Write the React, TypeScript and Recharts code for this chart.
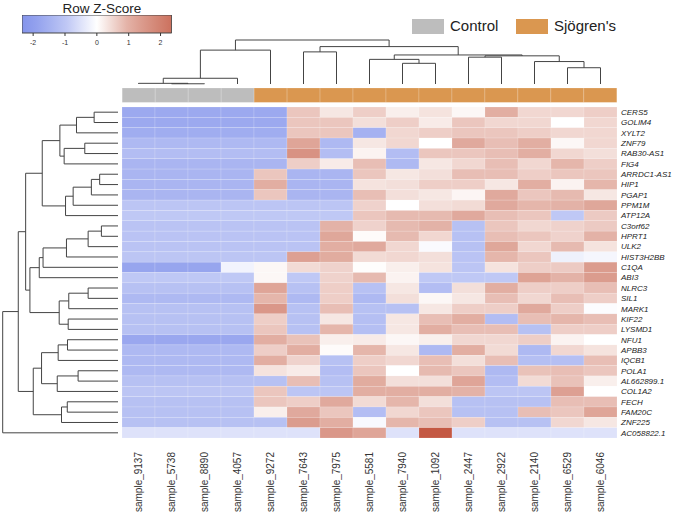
import React from "react";
import { ScatterChart, Scatter, XAxis, YAxis, ReferenceArea } from "recharts";

const FONT = '"Liberation Sans", Arial, Helvetica, sans-serif';

const samples = [
  "sample_9137", "sample_5738", "sample_8890", "sample_4057", "sample_9272",
  "sample_7643", "sample_7975", "sample_5581", "sample_7940", "sample_1092",
  "sample_2447", "sample_2922", "sample_2140", "sample_6529", "sample_6046",
];

const sampleGroups = [
  "Control", "Control", "Control", "Control", "Sjögren's",
  "Sjögren's", "Sjögren's", "Sjögren's", "Sjögren's", "Sjögren's",
  "Sjögren's", "Sjögren's", "Sjögren's", "Sjögren's", "Sjögren's",
];

const genes = [
  "CERS5", "GOLIM4", "XYLT2", "ZNF79", "RAB30-AS1", "FIG4", "ARRDC1-AS1", "HIP1",
  "PGAP1", "PPM1M", "ATP12A", "C3orf62", "HPRT1", "ULK2", "HIST3H2BB", "C1QA",
  "ABI3", "NLRC3", "SIL1", "MARK1", "KIF22", "LYSMD1", "NFU1", "APBB3",
  "IQCB1", "POLA1", "AL662899.1", "COL1A2", "FECH", "FAM20C", "ZNF225", "AC058822.1",
];

// row z-scores, one row per gene, one column per sample
const zScores: number[][] = [
  [-1.7, -1.7, -1.7, -1.7, -1.7, 0.7, 0.3, 0.6, 0.2, 0.35, 0.1, 1.0, 0.5, 0.5, 0.6],
  [-1.7, -1.7, -1.7, -1.7, -1.7, 0.7, 0.7, 0.4, 0.6, 0.25, 0.7, 0.5, 0.5, 0.0, 0.5],
  [-1.6, -1.6, -1.6, -1.6, -1.6, 0.7, 0.7, -1.5, 0.5, 0.6, 0.7, 0.7, 0.6, 0.5, 0.5],
  [-1.3, -1.3, -1.3, -1.3, -1.3, 1.2, -1.3, 0.3, 0.5, 0.0, 1.1, 0.8, 1.0, 0.1, 0.5],
  [-1.2, -1.2, -1.2, -1.2, -1.2, 1.6, -1.2, 0.15, -1.2, 0.7, 0.7, 0.8, 1.0, 0.5, 0.4],
  [-1.4, -1.4, -1.4, -1.4, -1.4, 0.6, 0.25, 0.8, -1.3, 0.3, 0.5, 0.8, 0.5, 0.9, 0.6],
  [-1.4, -1.4, -1.4, -1.4, 0.7, -1.4, -1.4, 0.7, 0.3, 0.4, 0.8, 0.8, 0.6, 0.7, 0.7],
  [-1.4, -1.4, -1.4, -1.4, 1.0, -1.4, -1.4, 0.35, 0.4, 0.6, 0.6, 0.3, 1.0, 0.15, 0.9],
  [-1.4, -1.4, -1.4, -1.4, 0.7, -1.4, -1.4, 0.8, 0.4, 0.3, 0.12, 1.1, 0.7, 0.85, 0.3],
  [-1.0, -1.0, -1.0, -1.0, -1.0, -1.0, -1.0, 0.55, 0.0, 0.4, 0.45, 1.1, 0.9, 0.95, 1.15],
  [-0.95, -0.95, -0.95, -0.95, -0.95, -0.95, -0.95, 0.7, 0.85, 0.85, 1.1, 0.8, 0.7, -0.95, 0.65],
  [-1.05, -1.05, -1.05, -1.05, -1.05, -1.05, 0.95, 0.55, 0.85, 0.95, -1.1, 0.7, 0.5, 0.55, 0.65],
  [-1.05, -1.05, -1.05, -1.05, -1.05, -1.05, 1.15, 0.05, 0.85, 0.5, -1.1, 0.8, 0.7, 0.55, 0.95],
  [-1.05, -1.05, -1.05, -1.05, -1.05, -1.05, 1.0, 1.1, 0.5, -0.08, -1.1, 1.15, 0.5, 0.85, 0.35],
  [-1.0, -1.0, -1.0, -1.0, -1.0, 1.3, 1.05, 0.45, 0.5, 0.4, -1.05, 0.9, 0.7, -0.25, -0.15],
  [-1.8, -1.8, -1.8, -0.2, 0.1, 0.45, 0.55, 0.03, 0.2, 0.35, -1.0, 0.35, 0.6, 0.65, 1.4],
  [-0.95, -0.95, -0.95, -0.95, 0.1, -0.95, 0.55, 0.85, 0.15, -0.95, -0.95, -0.95, 1.25, 0.95, 1.4],
  [-1.1, -1.1, -1.1, -1.1, 1.2, -1.1, 0.6, -1.1, 0.3, -1.2, 0.4, 1.0, 0.6, 0.6, 0.8],
  [-1.3, -1.3, -1.3, -1.3, 0.9, -1.3, 0.6, -1.3, 0.4, 0.1, 0.3, 0.8, 0.5, 0.8, 0.6],
  [-1.1, -1.1, -1.1, -1.1, 1.5, -1.1, 0.8, -1.1, -1.1, 0.3, 0.6, 0.6, 1.1, 0.6, -0.05],
  [-1.1, -1.1, -1.1, -1.1, 0.6, -1.1, 0.3, -1.15, 0.3, 0.8, 1.0, -1.2, 0.8, 0.9, 0.8],
  [-1.1, -1.1, -1.1, -1.1, 0.7, -1.1, 0.9, -1.15, 0.3, 1.0, 0.8, 0.8, -1.1, 0.6, 0.6],
  [-1.75, -1.75, -1.75, -1.75, 1.0, 0.75, 0.2, 0.25, 0.1, 0.2, 0.5, 0.5, 0.6, 0.15, 0.0],
  [-1.3, -1.3, -1.3, -1.3, 0.6, 1.0, 0.05, 0.9, 0.3, -1.3, 1.0, 0.45, -1.3, 0.5, 0.35],
  [-1.3, -1.3, -1.3, -1.3, 1.0, 0.55, -1.1, 0.6, 0.5, 0.8, 0.4, 0.8, -1.15, -1.15, 0.8],
  [-1.3, -1.3, -1.3, -1.3, 0.35, 0.25, -1.2, 0.7, 0.0, 0.85, 0.7, -1.3, 0.75, 0.8, 0.7],
  [-1.1, -1.1, -1.1, -1.1, -1.1, 0.8, -1.1, 1.05, 0.4, 0.4, 1.2, -1.2, 0.45, 0.75, 0.2],
  [-1.0, -1.0, -1.0, -1.0, 0.7, -1.0, -1.0, 1.0, 1.0, 1.0, 0.95, -1.0, -1.0, 1.3, 0.0],
  [-1.1, -1.1, -1.1, -1.1, 0.7, 0.6, 1.1, 0.45, 0.9, 0.4, -1.1, -1.1, -1.1, 0.8, 0.8],
  [-1.1, -1.1, -1.1, -1.1, 0.2, 1.1, 0.7, -1.2, 0.5, 0.7, -1.1, -1.1, 0.8, 0.7, 1.2],
  [-1.1, -1.1, -1.1, -1.1, -1.1, 1.4, 1.0, -0.1, 0.9, 0.8, 0.6, -1.1, -1.1, 0.5, 0.3],
  [-0.5, -0.5, -0.5, -0.5, -0.5, -0.5, 1.5, 1.2, -0.5, 2.9, -0.5, -0.5, -0.5, -0.5, -0.5],
];

// hierarchical merges: [left id, right id, height]; leaves are 0..n-1, merges n, n+1, ...
const colMerges: [number, number, number][] = [
  [1, 2, 0.05], [0, 15, 0.15], [16, 3, 1.3], [17, 4, 7.7], [5, 6, 7.3],
  [8, 9, 4.7], [7, 20, 5.6], [10, 11, 6.1], [13, 14, 3.7], [12, 23, 5.1],
  [22, 24, 6.4], [21, 25, 6.6], [19, 26, 8.5], [18, 27, 10],
];

const rowMerges: [number, number, number][] = [
  [0, 1, 2.07], [32, 2, 3.6], [3, 4, 2.88], [34, 5, 4.67], [33, 35, 5.04],
  [6, 7, 1.59], [37, 8, 2.31], [38, 9, 3.89], [39, 10, 4.55], [36, 40, 6.57],
  [11, 12, 1.44], [42, 13, 2.59], [43, 14, 4.47], [44, 15, 6.5], [45, 16, 6.83],
  [17, 18, 2.59], [47, 19, 4.27], [20, 21, 4.32], [48, 49, 5.1], [46, 50, 7.64],
  [41, 51, 8.01], [22, 23, 4.38], [53, 24, 5.19], [25, 26, 3.46], [55, 27, 5.27],
  [54, 56, 6.63], [28, 29, 4.4], [58, 30, 4.9], [57, 59, 7.35], [52, 60, 8.65],
  [61, 31, 10],
];

const zTicks = [-2, -1, 0, 1, 2];
const zRange = [-2.35, 2.35];

const groupColors: { [key: string]: string } = {
  Control: "#bdbdbd",
  "Sjögren's": "#da9750",
};

const BLUE_STOPS = [[255, 255, 255], [188, 197, 244], [142, 157, 237], [112, 130, 230]];
const RED_STOPS = [[255, 255, 255], [226, 174, 162], [209, 128, 111], [194, 84, 62]];

const zColor = (z: number): string => {
  const stops = z < 0 ? BLUE_STOPS : RED_STOPS;
  const a = Math.min(Math.abs(z), 3);
  const i = Math.min(Math.floor(a), 2);
  const t = a - i;
  const c = stops[i].map((v, k) => Math.round(v + (stops[i + 1][k] - v) * t));
  return `rgb(${c.join(",")})`;
};

// layout
const HM_LEFT = 122;
const HM_TOP = 107.3;
const HM_W = 495;
const HM_H = 331;
const CELL_W = HM_W / samples.length;
const CELL_H = HM_H / genes.length;
const LINE = "#444";

type Pt = { x: number; y: number };

const dendroSegments = (leafCount: number, merges: [number, number, number][], flip: boolean) => {
  const pos: number[] = [];
  const hgt: number[] = [];
  for (let i = 0; i < leafCount; i++) {
    pos[i] = i + 0.5;
    hgt[i] = 0;
  }
  return merges.map(([a, b, h], k) => {
    const id = leafCount + k;
    pos[id] = (pos[a] + pos[b]) / 2;
    hgt[id] = h;
    const raw = [
      [pos[a], hgt[a]],
      [pos[a], h],
      [pos[b], h],
      [pos[b], hgt[b]],
    ];
    return raw.map(([p, v]) => (flip ? { x: v, y: p } : { x: p, y: v })) as Pt[];
  });
};

const colSegments = dendroSegments(samples.length, colMerges, false);
const rowSegments = dendroSegments(genes.length, rowMerges, true);

const cells = zScores.flatMap((row, r) => row.map((v, c) => ({ x: c + 0.5, y: r + 0.5, value: v })));
const annoCells = sampleGroups.map((g, i) => ({ x: i + 0.5, y: 0.5, group: g }));
const colTicks = samples.map((_, i) => i + 0.5);
const rowTicks = genes.map((_, i) => i + 0.5);

const noShape = () => <g />;

const HeatCell = (props: any) => {
  const { cx, cy, payload } = props;
  return (
    <rect
      x={cx - CELL_W / 2}
      y={cy - CELL_H / 2}
      width={CELL_W}
      height={CELL_H}
      fill={zColor(payload.value)}
      stroke="rgba(255,255,255,0.3)"
      strokeWidth={0.5}
    />
  );
};

const ANNO_H = 14.4;
const AnnoCell = (props: any) => {
  const { cx, cy, payload } = props;
  return (
    <rect
      x={cx - CELL_W / 2}
      y={cy - ANNO_H / 2}
      width={CELL_W}
      height={ANNO_H}
      fill={groupColors[payload.group]}
      stroke="rgba(255,255,255,0.3)"
      strokeWidth={0.6}
    />
  );
};

const SampleTick = (props: any) => {
  const { x, y, payload } = props;
  const label = samples[Math.floor(payload.value)];
  return (
    <text
      x={x}
      y={y}
      dy="0.35em"
      textAnchor="end"
      transform={`rotate(-90, ${x}, ${y})`}
      fontSize={10}
      fontFamily={FONT}
      fill="#333"
    >
      {label}
    </text>
  );
};

const GeneTick = (props: any) => {
  const { x, y, payload } = props;
  const label = genes[Math.floor(payload.value)];
  return (
    <text x={x} y={y} dy="0.35em" textAnchor="start" fontSize={8} fontStyle="italic" fontFamily={FONT} fill="#222">
      {label}
    </text>
  );
};

const gradientStops = Array.from({ length: 11 }, (_, k) => {
  const z = zRange[0] + ((zRange[1] - zRange[0]) * k) / 10;
  return { offset: `${k * 10}%`, color: zColor(z) };
});

export default function App() {
  return (
    <div
      style={{
        position: "absolute",
        left: 0,
        top: 0,
        width: 673,
        height: 514,
        background: "#fff",
        fontFamily: FONT,
        overflow: "hidden",
      }}
    >
      {/* colour key */}
      <div
        style={{
          position: "absolute",
          left: 22,
          top: 0.5,
          width: 160,
          textAlign: "center",
          fontSize: 13.5,
          lineHeight: "16px",
          color: "#222",
        }}
      >
        Row Z-Score
      </div>
      <div style={{ position: "absolute", left: 22.3, top: 15.3 }}>
        <ScatterChart width={149.7} height={34} margin={{ top: 0, right: 0, bottom: 0, left: 0 }}>
          <defs>
            <linearGradient id="zScoreGradient" x1="0" y1="0" x2="1" y2="0">
              {gradientStops.map((s) => (
                <stop key={s.offset} offset={s.offset} stopColor={s.color} />
              ))}
            </linearGradient>
          </defs>
          <XAxis
            type="number"
            dataKey="x"
            domain={zRange}
            ticks={zTicks}
            interval={0}
            axisLine={false}
            tickSize={3}
            tickMargin={4}
            height={16}
            tickLine={{ stroke: "#333" }}
            tick={{ fontSize: 7, fill: "#333", fontFamily: FONT }}
          />
          <YAxis type="number" dataKey="y" domain={[0, 1]} hide />
          <Scatter data={zTicks.map((t) => ({ x: t, y: 0.5 }))} shape={noShape} isAnimationActive={false} />
          <ReferenceArea
            x1={zRange[0]}
            x2={zRange[1]}
            y1={0}
            y2={1}
            fill="url(#zScoreGradient)"
            fillOpacity={1}
            stroke="#444"
            strokeWidth={1}
          />
        </ScatterChart>
      </div>

      {/* group legend */}
      <div style={{ position: "absolute", left: 412, top: 19, width: 32, height: 14.5, background: groupColors.Control }} />
      <div style={{ position: "absolute", left: 450, top: 17, fontSize: 15, lineHeight: "18px", color: "#222" }}>
        Control
      </div>
      <div style={{ position: "absolute", left: 516, top: 19, width: 32, height: 14.5, background: groupColors["Sjögren's"] }} />
      <div style={{ position: "absolute", left: 554, top: 17, fontSize: 15, lineHeight: "18px", color: "#222" }}>
        Sjögren's
      </div>

      {/* column dendrogram */}
      <div style={{ position: "absolute", left: HM_LEFT - 2, top: 38 }}>
        <ScatterChart width={HM_W + 4} height={48} margin={{ top: 2, right: 2, bottom: 2, left: 2 }}>
          <XAxis type="number" dataKey="x" domain={[0, samples.length]} hide />
          <YAxis type="number" dataKey="y" domain={[0, 10]} hide />
          {colSegments.map((seg, i) => (
            <Scatter
              key={i}
              data={seg}
              line={{ stroke: LINE, strokeWidth: 1 }}
              shape={noShape}
              isAnimationActive={false}
            />
          ))}
        </ScatterChart>
      </div>

      {/* annotation bar */}
      <div style={{ position: "absolute", left: HM_LEFT, top: 88.3 }}>
        <ScatterChart width={HM_W} height={ANNO_H} margin={{ top: 0, right: 0, bottom: 0, left: 0 }}>
          <XAxis type="number" dataKey="x" domain={[0, samples.length]} hide />
          <YAxis type="number" dataKey="y" domain={[0, 1]} hide />
          <Scatter data={annoCells} shape={AnnoCell} isAnimationActive={false} />
        </ScatterChart>
      </div>

      {/* row dendrogram */}
      <div style={{ position: "absolute", left: 0, top: HM_TOP - 2 }}>
        <ScatterChart width={120} height={HM_H + 4} margin={{ top: 2, right: 2, bottom: 2, left: 2.7 }}>
          <XAxis type="number" dataKey="x" domain={[0, 10]} reversed hide />
          <YAxis type="number" dataKey="y" domain={[0, genes.length]} reversed hide />
          {rowSegments.map((seg, i) => (
            <Scatter
              key={i}
              data={seg}
              line={{ stroke: LINE, strokeWidth: 1 }}
              shape={noShape}
              isAnimationActive={false}
            />
          ))}
        </ScatterChart>
      </div>

      {/* heatmap */}
      <div style={{ position: "absolute", left: HM_LEFT, top: HM_TOP }}>
        <ScatterChart width={HM_W + 56} height={HM_H + 76} margin={{ top: 0, right: 0, bottom: 0, left: 0 }}>
          <XAxis
            type="number"
            dataKey="x"
            domain={[0, samples.length]}
            ticks={colTicks}
            interval={0}
            tick={<SampleTick />}
            tickLine={false}
            axisLine={false}
            height={76}
            tickSize={6}
            tickMargin={8}
          />
          <YAxis
            type="number"
            dataKey="y"
            domain={[0, genes.length]}
            reversed
            orientation="right"
            ticks={rowTicks}
            interval={0}
            tick={<GeneTick />}
            tickLine={false}
            axisLine={false}
            width={56}
            tickSize={2}
            tickMargin={2}
          />
          <Scatter data={cells} shape={HeatCell} isAnimationActive={false} />
        </ScatterChart>
      </div>
    </div>
  );
}
